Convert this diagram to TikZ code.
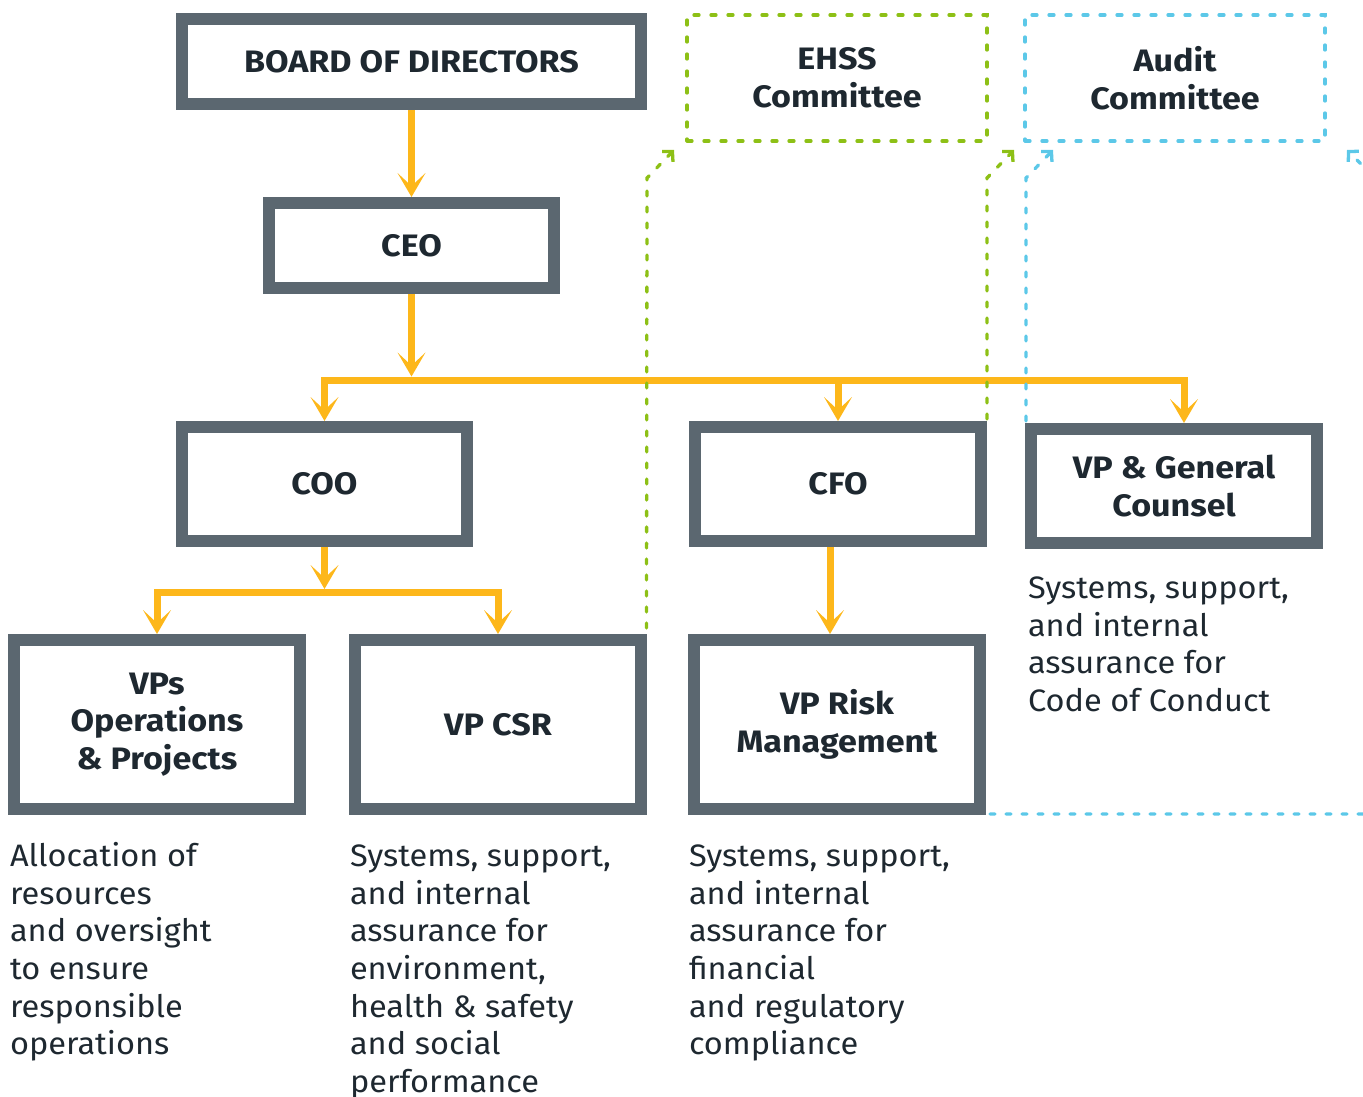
\documentclass[tikz,border=0pt]{standalone}
\usepackage{fontspec}
\setmainfont{Fira Sans}[FakeStretch=1.05]
\newfontfamily\labfont{Fira Sans}[FakeStretch=1.1]
\usetikzlibrary{arrows.meta,calc}
\definecolor{boxgray}{RGB}{91,103,112}
\definecolor{txt}{RGB}{30,40,48}
\definecolor{orng}{RGB}{253,183,26}
\definecolor{grn}{RGB}{141,192,22}
\definecolor{blu}{RGB}{92,200,232}
\tikzset{
  orgbox/.style={draw=boxgray,line width=12pt,outer sep=6pt,inner sep=0pt,
    minimum width=286pt,text=txt,align=center,
    font=\labfont\bfseries\fontsize{31}{37.5}\selectfont},
  dashbox/.style={line width=3.3pt,outer sep=1.5pt,inner sep=0pt,
    minimum width=300pt,minimum height=126pt,text=txt,align=center,
    line cap=round,dash pattern=on 5pt off 12pt,
    font=\labfont\bfseries\fontsize{31}{37.5}\selectfont},
  desc/.style={anchor=base west,inner sep=0pt,outer sep=0pt,text=txt,align=left,
    font=\fontsize{31}{37.6}\selectfont},
  oline/.style={draw=orng,line width=7pt},
  oarrow/.style={oline,-{Stealth[length=24pt,width=28pt,inset=13pt,line width=0pt]}},
  gdash/.style={draw=grn,line width=3.3pt,line cap=round,dash pattern=on 5pt off 11pt,
    -{Straight Barb[length=7pt,width=15pt,line cap=butt]}},
  bdash/.style={gdash,draw=blu},
}
\begin{document}
\begin{tikzpicture}[x=1pt,y=-1pt]
\useasboundingbox (0,0) rectangle (1363,1097);
\clip (0,0) rectangle (1363,1097);
% boxes
\node[orgbox,minimum width=459pt,minimum height=85pt] (BOD) at (411.5,61.5) {BOARD OF DIRECTORS};
\node[orgbox,minimum width=285pt,minimum height=85pt] (CEO) at (411.5,245.5) {CEO};
\node[orgbox,minimum width=285pt,minimum height=114pt] (COO) at (324.5,484) {COO};
\node[orgbox,minimum height=114pt] (CFO) at (838,484) {CFO};
\node[orgbox,minimum height=114pt] (VPGC) at (1174,486) {VP \& General\\Counsel};
\node[orgbox,minimum height=169pt] (VPOPS) at (157,724.5) {VPs\\Operations\\\& Projects};
\node[orgbox,minimum height=169pt] (VPCSR) at (498,724.5) {VP CSR};
\node[orgbox,minimum height=169pt] (VPRISK) at (837,724.5) {VP Risk\\Management};
\node[dashbox,draw=grn] (EHSS) at (837,78) {EHSS\\Committee};
\node[dashbox,draw=blu] (AUDIT) at (1175,78) {Audit\\Committee};
% descriptions (anchor at the baseline of the last line)
\node[desc] (d1) at (10,1054.7) {Allocation of\\resources\\and oversight\\to ensure\\responsible\\operations};
\node[desc] (d2) at (350,1092.3) {Systems, support,\\and internal\\assurance for\\environment,\\health \& safety\\and social\\performance};
\node[desc] (d3) at (689,1054.7) {Systems, support,\\and internal\\assurance for\\financial\\and regulatory\\compliance};
\node[desc] (d4) at (1028,711.5) {Systems, support,\\and internal\\assurance for\\Code of Conduct};
% orange connectors
\coordinate (bus) at (411.5,380);
\coordinate (cbus) at (324.5,592.5);
\draw[oarrow] (BOD.south) -- (CEO.north);
\draw[oarrow] (CEO.south) -- ([yshift=3.5pt]bus);
\draw[oarrow] (bus) -| (COO.north);
\draw[oarrow] (bus) -| ([xshift=10pt]VPGC.north);
\draw[oarrow] (bus -| CFO.north) -- (CFO.north);
\draw[oarrow] (COO.south) -- ([yshift=3.5pt]cbus);
\draw[oarrow] (cbus) -| (VPOPS.north);
\draw[oarrow] (cbus) -| (VPCSR.north);
\draw[oarrow] ([xshift=-8pt]CFO.south) -- ([xshift=-8pt]CFO.south |- VPRISK.north);
% dashed committee connectors
\coordinate (g1) at (674,150);
\coordinate (g2) at (1014,150);
\coordinate (b1) at (1053,150);
\coordinate (b2) at (1347,150);
\draw[gdash] ([xshift=-0.5pt,yshift=6pt]VPCSR.north east) -- (647,178) -- (g1);
\draw[gdash] ([yshift=2pt]CFO.north east) -- (987,178) -- (g2);
\draw[bdash] ([xshift=1pt,yshift=2pt]VPGC.north west) -- (1026,178) -- (b1);
\draw[bdash] ([xshift=4pt,yshift=1pt]VPRISK.south east) -- (1374,814) -- (1374,177) -- (b2);
\end{tikzpicture}
\end{document}
